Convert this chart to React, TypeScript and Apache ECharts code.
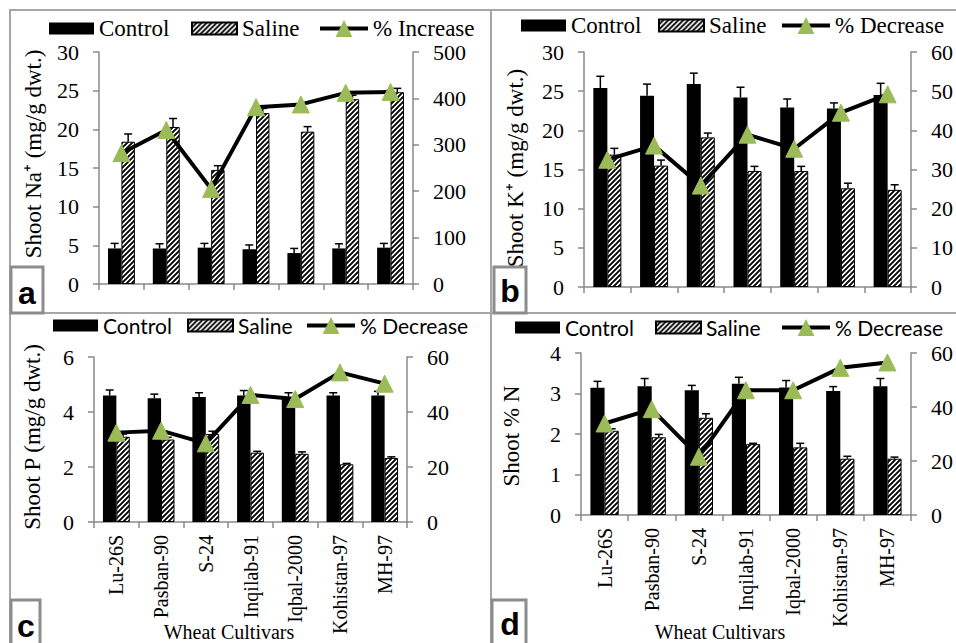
import React, { useEffect, useRef } from 'react';
import * as echarts from 'echarts';

const cultivars = ['Lu-26S', 'Pasban-90', 'S-24', 'Inqilab-91', 'Iqbal-2000', 'Kohistan-97', 'MH-97'];

// Panel a: Shoot Na+
const naControl = [4.6, 4.6, 4.7, 4.5, 4.0, 4.6, 4.7];
const naControlErr = [0.65, 0.6, 0.55, 0.55, 0.6, 0.6, 0.55];
const naSaline = [18.4, 20.3, 14.75, 22.1, 19.7, 23.9, 24.8];
const naSalineErr = [1.0, 1.1, 0.55, 0.6, 0.65, 0.5, 0.5];
const naIncrease = [282, 332, 205, 381, 387, 412, 414];

// Panel b: Shoot K+
const kControl = [25.4, 24.4, 25.9, 24.2, 22.9, 22.8, 24.5];
const kControlErr = [1.5, 1.5, 1.4, 1.3, 1.1, 0.7, 1.5];
const kSaline = [16.9, 15.5, 19.1, 14.8, 14.8, 12.6, 12.4];
const kSalineErr = [0.8, 0.7, 0.55, 0.6, 0.6, 0.65, 0.65];
const kDecrease = [32.5, 36.1, 25.9, 38.9, 35.3, 44.5, 49.2];

// Panel c: Shoot P
const pControl = [4.6, 4.5, 4.55, 4.6, 4.55, 4.6, 4.6];
const pControlErr = [0.2, 0.15, 0.15, 0.18, 0.15, 0.1, 0.15];
const pSaline = [3.1, 3.0, 3.2, 2.52, 2.48, 2.1, 2.33];
const pSalineErr = [0.1, 0.08, 0.1, 0.05, 0.07, 0.03, 0.04];
const pDecrease = [32.5, 33.2, 28.6, 46.2, 44.7, 54.4, 50.3];

// Panel d: Shoot % N
const nControl = [3.14, 3.18, 3.08, 3.24, 3.15, 3.06, 3.18];
const nControlErr = [0.16, 0.19, 0.12, 0.16, 0.17, 0.11, 0.19];
const nSaline = [2.08, 1.92, 2.4, 1.75, 1.67, 1.39, 1.39];
const nSalineErr = [0.05, 0.07, 0.1, 0.02, 0.1, 0.06, 0.04];
const nDecrease = [33.9, 39.2, 21.6, 46.2, 46.2, 54.5, 56.5];

const SERIF = 'Liberation Serif, serif';
const SANS = 'Lato, sans-serif';
const AXIS_GRAY = '#8a8a8a';
const FRAME_GRAY = '#a6a6a6';
const GREEN = '#9bbb59';

function hatchURL(): string {
  const s = 5;
  const c = document.createElement('canvas');
  c.width = s;
  c.height = s;
  const ctx = c.getContext('2d')!;
  ctx.fillStyle = '#fff';
  ctx.fillRect(0, 0, s, s);
  ctx.strokeStyle = '#000';
  ctx.lineWidth = 1.9;
  ctx.beginPath();
  ctx.moveTo(-1, s + 1); ctx.lineTo(s + 1, -1);
  ctx.moveTo(-2, 2); ctx.lineTo(2, -2);
  ctx.moveTo(s - 2, s + 2); ctx.lineTo(s + 2, s - 2);
  ctx.stroke();
  return c.toDataURL();
}

const errRender = (side: number) => (params: any, api: any) => {
  const idx = api.value(0);
  const v = api.value(1);
  const e = api.value(2);
  const p0 = api.coord([idx, v]);
  const p1 = api.coord([idx, v + e]);
  const band = api.size([1, 0])[0];
  const x = p0[0] + side * band * 0.15;
  return {
    type: 'group',
    children: [
      { type: 'line', shape: { x1: x, y1: p0[1], x2: x, y2: p1[1] }, style: { stroke: '#000', lineWidth: 1.5 } },
      { type: 'line', shape: { x1: x - 4, y1: p1[1], x2: x + 4, y2: p1[1] }, style: { stroke: '#000', lineWidth: 1.5 } },
    ],
  };
};

export default function App() {
  const ref = useRef<HTMLDivElement>(null);
  useEffect(() => {
    const chart = echarts.init(ref.current!, null, { renderer: 'svg' });
    const pattern = { image: hatchURL(), repeat: 'repeat' };

    const panels = [
      {
        grid: { left: 99, top: 52, width: 314, height: 232 },
        lmax: 30, lint: 5, rmax: 500, rint: 100, labels: false,
        control: naControl, controlErr: naControlErr, saline: naSaline, salineErr: naSalineErr,
        pct: naIncrease, pctName: '% Increase',
        font: SERIF, fsize: 23, leg: [49, 191, 318], cy: 30,
      },
      {
        grid: { left: 584, top: 52, width: 332, height: 235 },
        lmax: 30, lint: 5, rmax: 60, rint: 10, labels: false,
        control: kControl, controlErr: kControlErr, saline: kSaline, salineErr: kSalineErr,
        pct: kDecrease, pctName: '% Decrease',
        font: SERIF, fsize: 23, leg: [521, 658, 780], cy: 27,
      },
      {
        grid: { left: 94, top: 357, width: 313, height: 165 },
        lmax: 6, lint: 2, rmax: 60, rint: 20, labels: true,
        control: pControl, controlErr: pControlErr, saline: pSaline, salineErr: pSalineErr,
        pct: pDecrease, pctName: '% Decrease',
        font: SANS, fsize: 21, leg: [53, 187, 305], cy: 328,
      },
      {
        grid: { left: 581, top: 353, width: 333, height: 162 },
        lmax: 4, lint: 1, rmax: 60, rint: 20, labels: true,
        control: nControl, controlErr: nControlErr, saline: nSaline, salineErr: nSalineErr,
        pct: nDecrease, pctName: '% Decrease',
        font: SANS, fsize: 21, leg: [515, 655, 780], cy: 330,
      },
    ];

    const grid: any[] = [];
    const xAxis: any[] = [];
    const yAxis: any[] = [];
    const series: any[] = [];
    const legend: any[] = [];

    const axisCommon = {
      axisLine: { show: true, lineStyle: { color: AXIS_GRAY, width: 1.5 } },
      axisTick: { show: true, length: 6, lineStyle: { color: AXIS_GRAY, width: 1.5 } },
      splitLine: { show: false },
    };

    panels.forEach((p, i) => {
      grid.push({ ...p.grid, containLabel: false });
      xAxis.push({
        gridIndex: i,
        type: 'category',
        data: cultivars,
        ...axisCommon,
        axisLabel: {
          show: p.labels,
          rotate: 90,
          margin: 13,
          fontFamily: SERIF,
          fontSize: 20,
          color: '#000',
          interval: 0,
        },
      });
      yAxis.push({
        gridIndex: i,
        type: 'value',
        position: 'left',
        min: 0,
        max: p.lmax,
        interval: p.lint,
        ...axisCommon,
        axisLabel: { margin: 20, fontFamily: SERIF, fontSize: 22, color: '#000' },
      });
      yAxis.push({
        gridIndex: i,
        type: 'value',
        position: 'right',
        min: 0,
        max: p.rmax,
        interval: p.rint,
        ...axisCommon,
        axisLabel: { margin: 20, fontFamily: SERIF, fontSize: 22, color: '#000' },
      });
      const yl = i * 2;
      const yr = i * 2 + 1;
      series.push({
        type: 'bar', name: 'Control', xAxisIndex: i, yAxisIndex: yl,
        data: p.control, barWidth: '30%', barGap: '0%',
        itemStyle: { color: '#000' }, z: 2,
      });
      series.push({
        type: 'bar', name: 'Saline', xAxisIndex: i, yAxisIndex: yl,
        data: p.saline, barWidth: '30%', barGap: '0%',
        itemStyle: { color: pattern, borderColor: '#000', borderWidth: 1 }, z: 2,
      });
      series.push({
        type: 'custom', name: 'errC' + i, xAxisIndex: i, yAxisIndex: yl,
        data: p.control.map((v, k) => [k, v, p.controlErr[k]]),
        encode: { x: 0, y: 1 }, renderItem: errRender(-1), z: 3,
      });
      series.push({
        type: 'custom', name: 'errS' + i, xAxisIndex: i, yAxisIndex: yl,
        data: p.saline.map((v, k) => [k, v, p.salineErr[k]]),
        encode: { x: 0, y: 1 }, renderItem: errRender(1), z: 3,
      });
      series.push({
        type: 'line', name: p.pctName, xAxisIndex: i, yAxisIndex: yr,
        data: p.pct, symbol: 'triangle', symbolSize: 17, showAllSymbol: true,
        lineStyle: { color: '#000', width: 4 },
        itemStyle: { color: GREEN, borderColor: GREEN },
        z: 5,
      });
      const names = ['Control', 'Saline', p.pctName];
      names.forEach((n, k) => {
        const isLine = k === 2;
        legend.push({
          left: p.leg[k],
          top: p.cy - 13,
          padding: 0,
          itemGap: 0,
          itemWidth: isLine ? 48 : 45,
          itemHeight: isLine ? 21 : 12,
          selectedMode: false,
          lineStyle: { width: 4, color: '#000' },
          textStyle: { fontFamily: p.font, fontSize: p.fsize, color: '#000' },
          data: [isLine ? { name: n } : { name: n, icon: 'rect' }],
        });
      });
    });

    const frame = (x: number, y: number, w: number, h: number) => ({
      type: 'rect', shape: { x, y, width: w, height: h },
      style: { fill: 'none', stroke: FRAME_GRAY, lineWidth: 2 }, z: 50, silent: true,
    });
    const letterBox = (x: number, y: number, w: number, h: number, t: string, tx: number, ty: number) => [
      { type: 'rect', shape: { x, y, width: w, height: h }, style: { fill: '#fff', stroke: '#8c8c8c', lineWidth: 3 }, z: 60 },
      { type: 'text', x: tx, y: ty, style: { text: t, fontFamily: 'Liberation Sans, sans-serif', fontWeight: 'bold', fontSize: 32, fill: '#000', align: 'center', verticalAlign: 'middle' }, z: 61 },
    ];
    const vText = (t: string, x: number, y: number) => ({
      type: 'text', x, y, rotation: Math.PI / 2,
      style: { text: t, fontFamily: SERIF, fontSize: 23, fill: '#000', align: 'center', verticalAlign: 'middle' },
      z: 40,
    });
    const hText = (t: string, x: number, y: number) => ({
      type: 'text', x, y,
      style: { text: t, fontFamily: SERIF, fontSize: 20, fill: '#000', align: 'center', verticalAlign: 'middle' },
      z: 40,
    });

    const graphic: any[] = [
      frame(10, 10, 481, 303),
      frame(491, 10, 470, 303),
      frame(10, 313, 481, 340),
      frame(491, 313, 470, 340),
      vText('Shoot Na⁺ (mg/g dwt.)', 33, 154),
      vText('Shoot K⁺ (mg/g dwt.)', 515, 168),
      vText('Shoot P (mg/g dwt.)', 32, 437),
      vText('Shoot % N', 511, 436),
      hText('Wheat Cultivars', 229, 632),
      hText('Wheat Cultivars', 720, 632),
      ...letterBox(11, 267, 32, 46, 'a', 27, 293),
      ...letterBox(494, 267, 32, 46, 'b', 510, 291),
      ...letterBox(11, 600, 29, 60, 'c', 26, 626),
      ...letterBox(492, 600, 34, 60, 'd', 510, 624),
    ];

    chart.setOption({
      animation: false,
      backgroundColor: '#fff',
      grid,
      xAxis,
      yAxis,
      series,
      legend,
      graphic,
    });
    return () => chart.dispose();
  }, []);
  return (
    <div
      ref={ref}
      style={{ position: 'fixed', left: 0, top: 0, width: 956, height: 643, background: '#fff' }}
    />
  );
}
